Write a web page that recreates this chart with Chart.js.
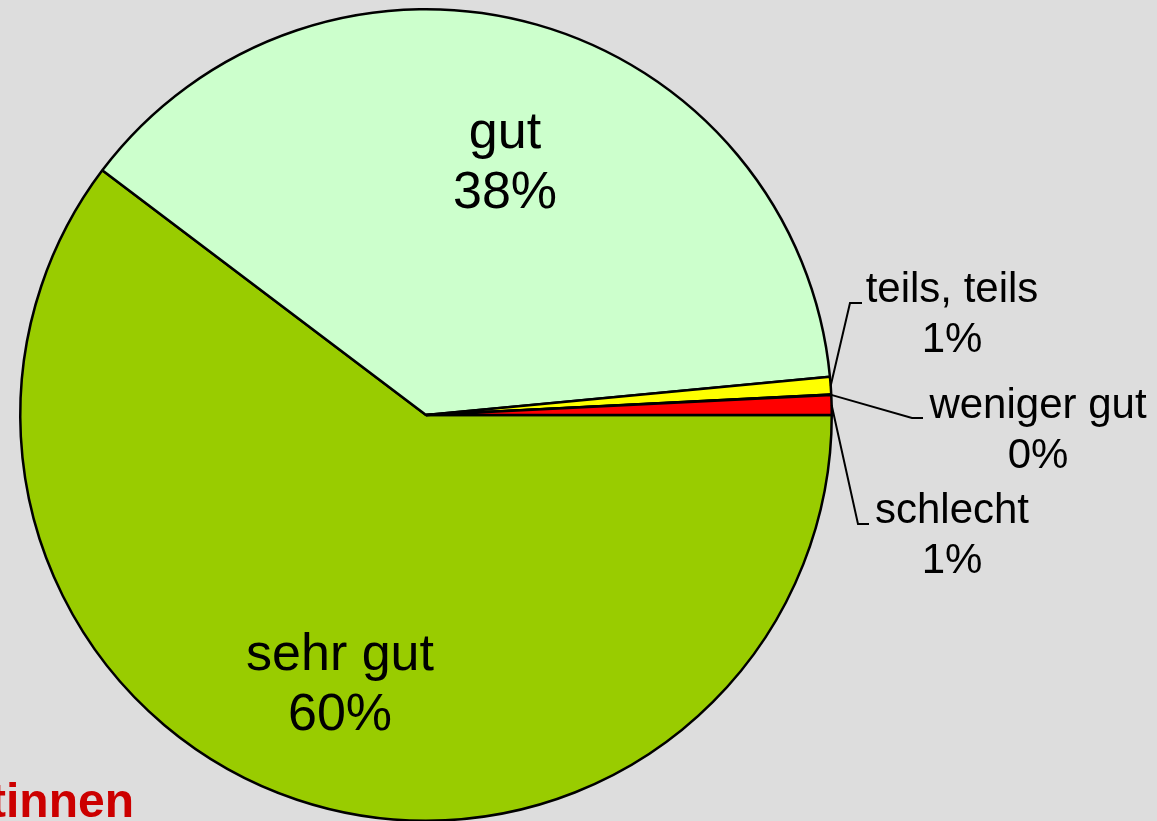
<!DOCTYPE html>
<html>
<head>
<meta charset="utf-8">
<script src="https://cdn.jsdelivr.net/npm/chart.js@4/dist/chart.umd.min.js"></script>
<style>
  html, body { margin: 0; padding: 0; background: #dddddd; overflow: hidden; }
  #wrap { width: 1157px; height: 821px; overflow: hidden; }
</style>
</head>
<body>
<div id="wrap"><canvas id="pie" width="1157" height="830"></canvas></div>
<script>
const categories = ['sehr gut', 'gut', 'teils, teils', 'weniger gut', 'schlecht'];
const values = [60.3, 38.2, 0.7, 0.02, 0.78];
const colors = ['#99cc00', '#ccffcc', '#ffff00', '#ff9900', '#ff0000'];

// label placement: inside labels sit in the slice, outside ones use leader lines
const labelPos = [
    { x: 340, y: 670, inside: true },
    { x: 505, y: 148, inside: true },
    { x: 952, y: 302, elbow: [[850, 303], [862, 303]] },
    { x: 1038, y: 418, elbow: [[912, 418], [923, 418]] },
    { x: 952, y: 523, elbow: [[858, 524], [869, 524]] }
];

const total = values.reduce((a, b) => a + b, 0);
const pct = v => Math.round(v / total * 100) + '%';

const labelPlugin = {
    id: 'sliceLabels',
    afterDatasetsDraw(chart) {
        const ctx = chart.ctx;
        const arcs = chart.getDatasetMeta(0).data;
        ctx.save();
        ctx.fillStyle = '#000';
        ctx.textAlign = 'center';
        ctx.textBaseline = 'alphabetic';
        arcs.forEach((arc, i) => {
            const p = labelPos[i];
            if (p.inside) {
                ctx.font = '52px "Liberation Sans", Arial, sans-serif';
                ctx.fillText(categories[i], p.x, p.y);
                ctx.fillText(pct(values[i]), p.x, p.y + 60);
            } else {
                const mid = (arc.startAngle + arc.endAngle) / 2;
                const ax = arc.x + arc.outerRadius * Math.cos(mid);
                const ay = arc.y + arc.outerRadius * Math.sin(mid);
                ctx.strokeStyle = '#000';
                ctx.lineWidth = 2;
                ctx.beginPath();
                ctx.moveTo(ax, ay);
                p.elbow.forEach(pt => ctx.lineTo(pt[0], pt[1]));
                ctx.stroke();
                ctx.font = '42px "Liberation Sans", Arial, sans-serif';
                ctx.fillText(categories[i], p.x, p.y);
                ctx.fillText(pct(values[i]), p.x, p.y + 50);
            }
        });
        // partly hidden caption at the lower left
        ctx.fillStyle = '#cc0000';
        ctx.textAlign = 'right';
        ctx.font = 'bold 48px "Liberation Sans", Arial, sans-serif';
        ctx.fillText('tinnen', 134, 817);
        ctx.restore();
    }
};

new Chart(document.getElementById('pie'), {
    type: 'pie',
    data: {
        labels: categories,
        datasets: [{
            data: values,
            backgroundColor: colors,
            borderColor: '#000000',
            borderWidth: 2.5
        }]
    },
    options: {
        responsive: false,
        animation: false,
        rotation: 90,
        layout: { padding: { left: 19, right: 324, top: 8, bottom: 8 } },
        plugins: { legend: { display: false }, tooltip: { enabled: false } }
    },
    plugins: [labelPlugin]
});
</script>
</body>
</html>
